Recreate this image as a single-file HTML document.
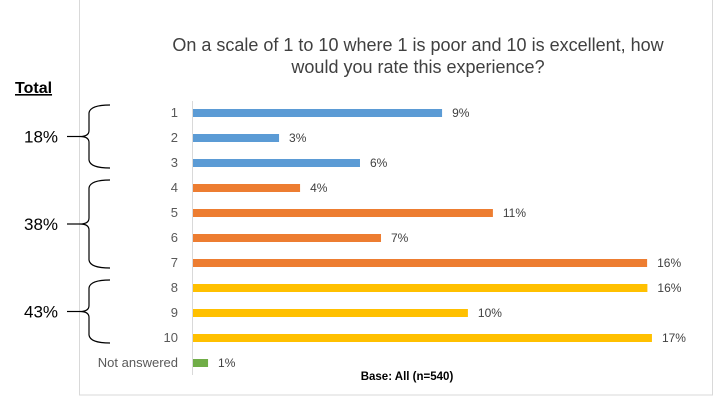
<!DOCTYPE html>
<html><head><meta charset="utf-8"><style>
body{margin:0;background:#fff;width:725px;height:405px;overflow:hidden;font-family:"Liberation Sans",sans-serif}
</style></head><body>
<svg id="c" width="725" height="405" style="font-family:'Liberation Sans',sans-serif">
<rect x="79.5" y="-1" width="633" height="396" fill="none" stroke="#d9d9d9"/>
<text x="418" y="51" font-size="18" fill="#404040" text-anchor="middle">On a scale of 1 to 10 where 1 is poor and 10 is excellent, how</text>
<text x="418" y="73" font-size="18" fill="#404040" text-anchor="middle">would you rate this experience?</text>
<text x="15" y="93" font-size="16" font-weight="bold" fill="#000" text-decoration="underline">Total</text>
<line x1="192.5" y1="101" x2="192.5" y2="375" stroke="#d9d9d9"/>
<text x="407" y="380" font-size="11.5" font-weight="bold" fill="#000" text-anchor="middle">Base: All (n=540)</text>
<g id="bars"></g>
<g id="groups"></g>
</svg>
<script>
const categories=["1","2","3","4","5","6","7","8","9","10","Not answered"];
const values=[8.77,3.03,5.88,3.77,10.56,6.62,15.99,16.0,9.68,16.16,0.53];
const valueLabels=["9%","3%","6%","4%","11%","7%","16%","16%","10%","17%","1%"];
const groupIdx=[0,0,0,1,1,1,1,2,2,2,3];
const groupColors=["#5b9bd5","#ed7d31","#ffc000","#70ad47"];
const groupTotals=["18%","38%","43%"];
const groupRanges=[[0,2],[3,6],[7,9]];
const NS="http://www.w3.org/2000/svg";
const x0=193,pxPer=28.4,y0=113,step=25.0;
const xS=v=>x0+v*pxPer, yS=i=>y0+i*step;
const g=document.getElementById('bars');
function mk(t,a,p){const e=document.createElementNS(NS,t);for(const k in a)e.setAttribute(k,a[k]);p.appendChild(e);return e;}
categories.forEach((c,i)=>{
 const y=yS(i);
 const t=mk('text',{x:178,y:y+4,'font-size':13,fill:'#595959','text-anchor':'end'},g);t.textContent=c;
 
 
 const r=mk('rect',{x:x0,y:y-4,width:xS(values[i])-x0,height:8,fill:groupColors[groupIdx[i]]},g);
 
 
 const l=mk('text',{x:xS(values[i])+10,y:y+4,'font-size':12,fill:'#404040'},g);l.textContent=valueLabels[i];
 
 
});
const gg=document.getElementById('groups');
groupRanges.forEach((r,k)=>{
 const top=yS(r[0])-8,bot=yS(r[1])+5,mid=(top+bot)/2;
 const p=mk('path',{d:`M110 ${top} Q90 ${top} 89 ${top+8} L89 ${mid-6} Q89 ${mid} 80 ${mid} Q89 ${mid} 89 ${mid+6} L89 ${bot-8} Q90 ${bot} 110 ${bot}`,fill:'none',stroke:'#000','stroke-width':1.2},gg);
 
 
 mk('line',{x1:67,y1:mid,x2:80,y2:mid,stroke:'#000','stroke-width':1.2},gg);
 const t=mk('text',{x:24,y:mid+6,'font-size':17,fill:'#000'},gg);t.textContent=groupTotals[k];
 
 
});
</script>
</body></html>
